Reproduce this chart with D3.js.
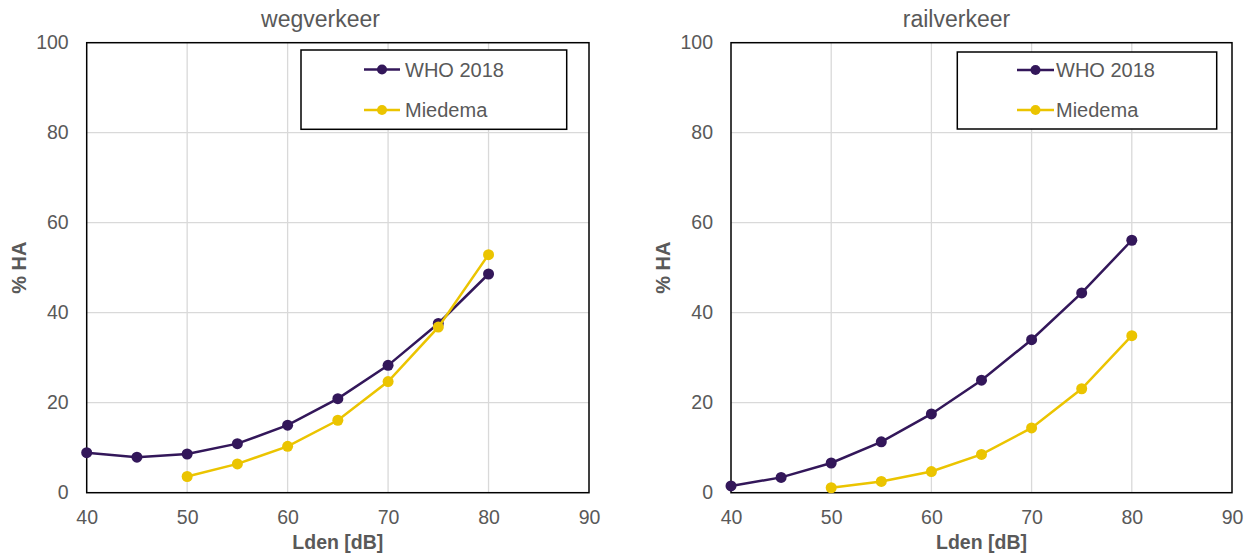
<!DOCTYPE html>
<html><head><meta charset="utf-8">
<script src="https://cdn.jsdelivr.net/npm/d3@7"></script>
<style>body{margin:0;background:#fff;} text{font-family:"Liberation Sans",Arial,sans-serif;}</style>
</head><body>
<svg id="c" width="1246" height="555"></svg>
<script>
const lden = [40,45,50,55,60,65,70,75,80];
const xTicks = [40,50,60,70,80,90];
const yTicks = [0,20,40,60,80,100];
const seriesNames = ["WHO 2018","Miedema"];
const seriesColors = ["#33175a","#ebc400"];
const panelTitles = ["wegverkeer","railverkeer"];
const wegWHO = [8.9,7.9,8.6,10.9,15.0,20.9,28.3,37.6,48.6];
const wegMiedema = [null,null,3.6,6.4,10.3,16.1,24.7,36.8,52.9];
const railWHO = [1.5,3.4,6.6,11.3,17.5,25.0,34.0,44.4,56.1];
const railMiedema = [null,null,1.1,2.5,4.7,8.5,14.4,23.1,34.9];

const panels = [
  {title:panelTitles[0], tcx:320.5, data:[wegWHO,wegMiedema], x0:86.7, x1:589, leg:{x0:301,x1:566.7,y0:50,y1:129.3,lx0:364,lx1:400,tx:405,rows:[69.5,110]}},
  {title:panelTitles[1], tcx:956.5, data:[railWHO,railMiedema], x0:731, x1:1232, leg:{x0:957.3,x1:1216.7,y0:52,y1:129,lx0:1017,lx1:1054,tx:1056,rows:[70,110]}}
];
const svg = d3.select("#c");
const yTop = 42.7, yBot = 492.7;
const tc = "#595959";

panels.forEach(p => {
  const g = svg.append("g");
  const x = d3.scaleLinear().domain([40,90]).range([p.x0,p.x1]);
  const y = d3.scaleLinear().domain([0,100]).range([yBot,yTop]);
  g.selectAll(".gx").data(xTicks.slice(1,-1)).enter().append("line")
    .attr("x1",d=>x(d)).attr("x2",d=>x(d)).attr("y1",yTop).attr("y2",yBot)
    .attr("stroke","#d9d9d9").attr("stroke-width",1.3);
  g.selectAll(".gy").data(yTicks.slice(1,-1)).enter().append("line")
    .attr("x1",p.x0).attr("x2",p.x1).attr("y1",d=>y(d)).attr("y2",d=>y(d))
    .attr("stroke","#d9d9d9").attr("stroke-width",1.3);
  const xa = g.append("g").attr("transform",`translate(0,${yBot})`)
    .call(d3.axisBottom(x).tickValues(xTicks).tickSize(0).tickPadding(17));
  xa.select(".domain").remove();
  xa.selectAll("text").attr("fill",tc).style("font-size","19.5px");
  const ya = g.append("g").attr("transform",`translate(${p.x0},0)`)
    .call(d3.axisLeft(y).tickValues(yTicks).tickSize(0).tickPadding(18));
  ya.select(".domain").remove();
  ya.selectAll("text").attr("fill",tc).style("font-size","19.5px");
  g.append("rect").attr("x",p.x0).attr("y",yTop).attr("width",p.x1-p.x0).attr("height",yBot-yTop)
    .attr("fill","none").attr("stroke","#000").attr("stroke-width",1.5);
  g.append("text").attr("x",p.tcx).attr("y",27).attr("text-anchor","middle")
    .attr("fill",tc).style("font-size","23px").text(p.title);
  g.append("text").attr("x",(p.x0+p.x1)/2).attr("y",549).attr("text-anchor","middle")
    .attr("fill",tc).style("font-size","19.5px").style("font-weight","bold").text("Lden [dB]");
  g.append("text").attr("transform",`translate(${p.x0-61},${(yTop+yBot)/2}) rotate(-90)`)
    .attr("text-anchor","middle").attr("fill",tc).style("font-size","20px").style("font-weight","bold").text("% HA");
  p.data.forEach((vals,i) => {
    const pts = lden.map((l,j)=>({l,v:vals[j]})).filter(d=>d.v!=null);
    g.append("path").datum(pts).attr("fill","none").attr("stroke",seriesColors[i]).attr("stroke-width",2.5)
      .attr("d",d3.line().x(d=>x(d.l)).y(d=>y(d.v)));
    g.selectAll(null).data(pts).enter().append("circle")
      .attr("cx",d=>x(d.l)).attr("cy",d=>y(d.v)).attr("r",5.5).attr("fill",seriesColors[i]);
  });
  const L = p.leg;
  g.append("rect").attr("x",L.x0).attr("y",L.y0).attr("width",L.x1-L.x0).attr("height",L.y1-L.y0)
    .attr("fill","#fff").attr("stroke","#000").attr("stroke-width",1.5);
  seriesNames.forEach((n,i)=>{
    const ry = L.rows[i];
    g.append("line").attr("x1",L.lx0).attr("x2",L.lx1).attr("y1",ry).attr("y2",ry)
      .attr("stroke",seriesColors[i]).attr("stroke-width",2.5);
    g.append("circle").attr("cx",(L.lx0+L.lx1)/2).attr("cy",ry).attr("r",5).attr("fill",seriesColors[i]);
    g.append("text").attr("x",L.tx).attr("y",ry+7).attr("fill",tc).style("font-size","20px").text(n);
  });
});
</script>
</body></html>
